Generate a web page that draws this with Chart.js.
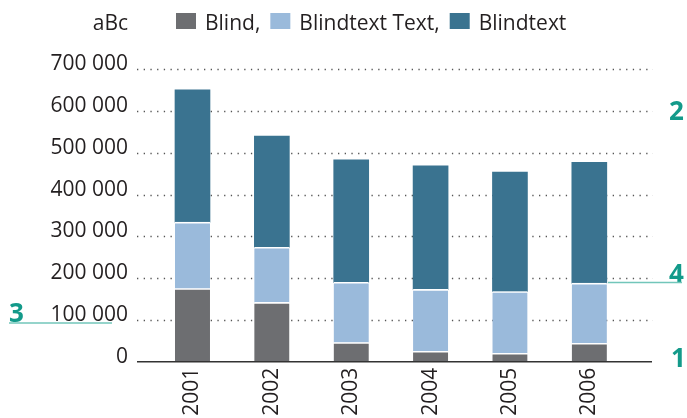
<!DOCTYPE html>
<html><head><meta charset="utf-8">
<script src="https://cdn.jsdelivr.net/npm/chart.js@4.4.1/dist/chart.umd.min.js"></script>
<style>html,body{margin:0;padding:0;background:#fff}canvas{display:block}</style>
</head><body>
<canvas id="c" width="687" height="418"></canvas>
<script>
// ---- data ----
const years = ['2001', '2002', '2003', '2004', '2005', '2006'];
const seriesNames = ['Blind', 'Blindtext Text', 'Blindtext'];
const blind = [175000, 142000, 46000, 25000, 20000, 44000];
const blindtextText = [159000, 132000, 144000, 148000, 148000, 144000];
const blindtext = [317000, 266000, 293000, 296000, 286000, 289000];
const yMin = 0, yMax = 700000, yStep = 100000;
const unitLabel = 'aBc';
const markerLabels = ['1', '2', '3', '4'];

// ---- styles ----
const FONT = "'Open Sans', sans-serif";
const colors = ['#6d6e71', '#9abadb', '#3a7390'];
const TEAL = '#139a8a', TEAL_LINE = '#72c6ba';
const fmt = v => String(v).replace(/\B(?=(\d{3})+(?!\d))/g, ' ');

const gridPlugin = {
  id: 'dotGrid',
  beforeDatasetsDraw(chart) {
    const { ctx, scales: { y } } = chart;
    ctx.save();
    ctx.strokeStyle = '#555';
    ctx.lineWidth = 1.3;
    ctx.setLineDash([1.3, 5.4]);
    y.ticks.forEach(t => {
      if (t.value === yMin) return;
      const py = Math.round(y.getPixelForValue(t.value)) + 0.5;
      ctx.beginPath(); ctx.moveTo(137, py); ctx.lineTo(653, py); ctx.stroke();
    });
    ctx.restore();
  },
  afterDatasetsDraw(chart) {
    const { ctx, scales: { y } } = chart;
    const py = y.getPixelForValue(yMin);
    ctx.save();
    ctx.strokeStyle = '#333'; ctx.lineWidth = 1.6;
    ctx.beginPath(); ctx.moveTo(137, py); ctx.lineTo(652, py); ctx.stroke();
    ctx.restore();
  }
};

const headerPlugin = {
  id: 'header',
  afterDraw(chart) {
    const { ctx } = chart;
    ctx.save();
    ctx.font = `21px ${FONT}`;
    ctx.fillStyle = '#231f20';
    ctx.textBaseline = 'alphabetic';
    ctx.textAlign = 'right';
    ctx.fillText(unitLabel, 128, 30);
    ctx.textAlign = 'left';
    let x = 176;
    chart.data.datasets.forEach((ds, i) => {
      ctx.fillStyle = ds.backgroundColor;
      ctx.fillRect(x, 13, 20, 16);
      x += 29;
      const txt = ds.label + (i < chart.data.datasets.length - 1 ? ',' : '');
      ctx.fillStyle = '#231f20';
      ctx.fillText(txt, x, 30);
      x += ctx.measureText(txt).width + 10;
    });
    // annotation markers
    ctx.font = `bold 26px ${FONT}`;
    ctx.fillStyle = TEAL;
    ctx.fillText(markerLabels[0], 671, 367);
    ctx.fillText(markerLabels[1], 669, 120);
    ctx.fillText(markerLabels[2], 9, 322);
    ctx.fillText(markerLabels[3], 669, 283);
    ctx.strokeStyle = TEAL_LINE; ctx.lineWidth = 1.5;
    ctx.beginPath(); ctx.moveTo(9, 323); ctx.lineTo(112, 323); ctx.stroke();
    ctx.beginPath(); ctx.moveTo(608, 282.5); ctx.lineTo(682, 282.5); ctx.stroke();
    ctx.restore();
  }
};

const sep = { top: 1.6, right: 0, bottom: 0, left: 0 };
new Chart(document.getElementById('c'), {
  type: 'bar',
  data: {
    labels: years,
    datasets: [
      { label: seriesNames[0], data: blind, backgroundColor: colors[0], borderColor: '#fff', borderWidth: sep, borderSkipped: false },
      { label: seriesNames[1], data: blindtextText, backgroundColor: colors[1], borderColor: '#fff', borderWidth: sep, borderSkipped: false },
      { label: seriesNames[2], data: blindtext, backgroundColor: colors[2], borderWidth: 0 }
    ]
  },
  options: {
    responsive: false,
    animation: false,
    devicePixelRatio: 1,
    layout: { padding: { left: 0, right: 58, top: 69.3, bottom: 0 } },
    datasets: { bar: { barThickness: 35 } },
    plugins: { legend: { display: false }, tooltip: { enabled: false } },
    scales: {
      x: {
        stacked: true,
        grid: { display: false, drawTicks: false },
        border: { display: false },
        ticks: { color: '#231f20', font: { family: FONT, size: 21 }, minRotation: 90, maxRotation: 90, padding: 6 },
        afterFit(s) { s.height = 56.3; }
      },
      y: {
        stacked: true,
        min: yMin, max: yMax,
        grid: { display: false, drawTicks: false },
        border: { display: false },
        ticks: { stepSize: yStep, color: '#231f20', font: { family: FONT, size: 21 }, padding: 24.8, labelOffset: -5, callback: v => fmt(v) },
        afterFit(s) { s.width = 152.8; }
      }
    }
  },
  plugins: [gridPlugin, headerPlugin]
});
</script>
</body></html>
